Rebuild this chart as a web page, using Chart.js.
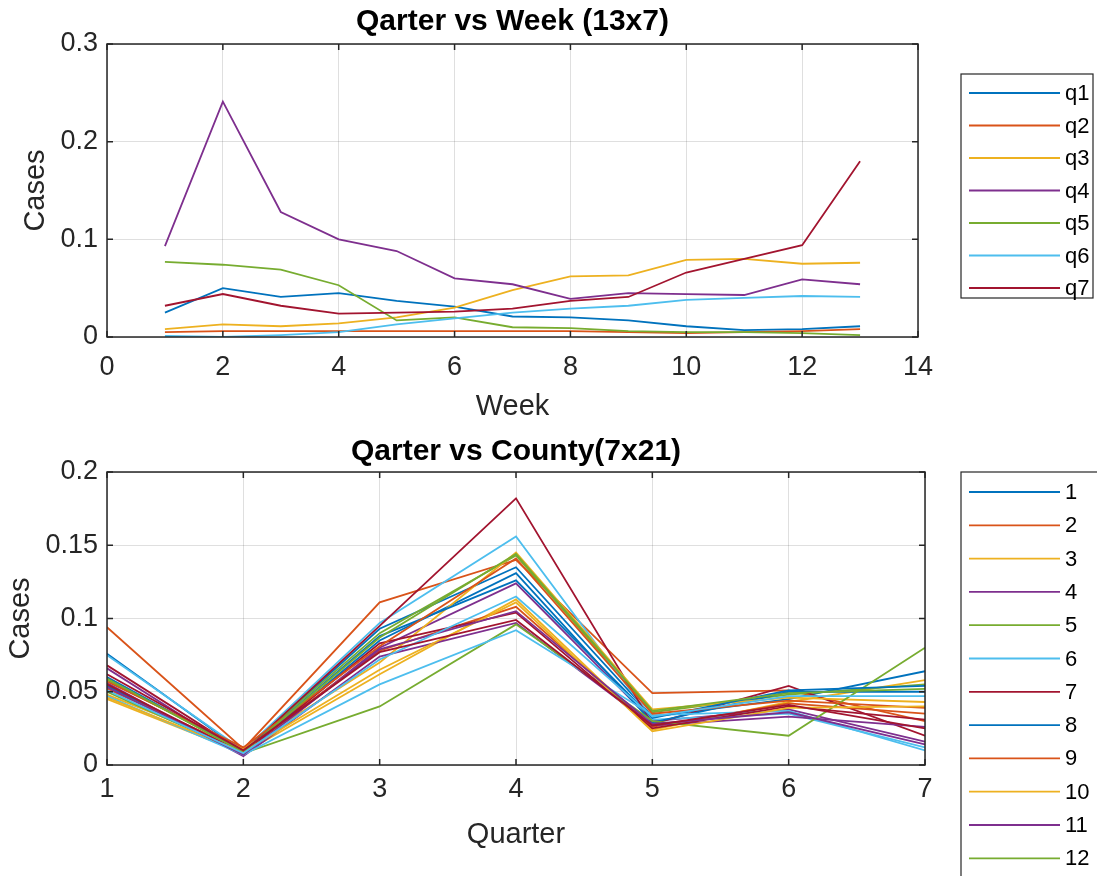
<!DOCTYPE html>
<html>
<head>
<meta charset="utf-8">
<title>Qarter vs Week / Qarter vs County</title>
<script src="https://cdn.jsdelivr.net/npm/chart.js@4.4.1/dist/chart.umd.min.js"></script>
<style>
  html, body { margin: 0; padding: 0; background: #fff; overflow: hidden; }
  #wrap { position: relative; width: 1097px; height: 876px; }
  canvas { position: absolute; left: 0; }
  #weekChart { top: 0; }
  #countyChart { top: 425px; }
</style>
</head>
<body>
<div id="wrap">
  <canvas id="weekChart" width="1097" height="425"></canvas>
  <canvas id="countyChart" width="1097" height="451"></canvas>
</div>
<script>
// ---- data: cases per week for each quarter ----
const weeks = [1, 2, 3, 4, 5, 6, 7, 8, 9, 10, 11, 12, 13];
const quarterNames = ['q1', 'q2', 'q3', 'q4', 'q5', 'q6', 'q7'];
const q1 = [0.025, 0.050, 0.041, 0.045, 0.037, 0.031, 0.021, 0.020, 0.017, 0.011, 0.007, 0.008, 0.011];
const q2 = [0.005, 0.006, 0.006, 0.006, 0.006, 0.006, 0.006, 0.006, 0.005, 0.004, 0.005, 0.006, 0.008];
const q3 = [0.008, 0.013, 0.011, 0.014, 0.020, 0.030, 0.048, 0.062, 0.063, 0.079, 0.080, 0.075, 0.076];
const q4 = [0.093, 0.241, 0.128, 0.100, 0.088, 0.060, 0.054, 0.039, 0.045, 0.044, 0.043, 0.059, 0.054];
const q5 = [0.077, 0.074, 0.069, 0.053, 0.017, 0.020, 0.010, 0.009, 0.006, 0.005, 0.005, 0.004, 0.002];
const q6 = [0.001, 0.000, 0.002, 0.005, 0.013, 0.019, 0.025, 0.029, 0.032, 0.038, 0.040, 0.042, 0.041];
const q7 = [0.032, 0.044, 0.032, 0.024, 0.025, 0.026, 0.029, 0.037, 0.041, 0.066, 0.080, 0.094, 0.180];
const weekSeries = [q1, q2, q3, q4, q5, q6, q7];
const weekTicks = [0, 2, 4, 6, 8, 10, 12, 14];
const weekCaseTicks = [0, 0.1, 0.2, 0.3];

// ---- data: cases per quarter for each county ----
const quarters = [1, 2, 3, 4, 5, 6, 7];
const countyNames = ['1', '2', '3', '4', '5', '6', '7', '8', '9', '10', '11',
                     '12', '13', '14', '15', '16', '17', '18', '19', '20', '21'];
const c1  = [0.076, 0.009, 0.093, 0.135, 0.033, 0.045, 0.064];
const c2  = [0.094, 0.011, 0.111, 0.140, 0.049, 0.051, 0.030];
const c3  = [0.045, 0.008, 0.062, 0.113, 0.024, 0.043, 0.058];
const c4  = [0.066, 0.007, 0.080, 0.124, 0.030, 0.038, 0.016];
const c5  = [0.058, 0.010, 0.090, 0.143, 0.036, 0.048, 0.055];
const c6  = [0.075, 0.010, 0.097, 0.156, 0.031, 0.035, 0.012];
const c7  = [0.068, 0.009, 0.095, 0.182, 0.028, 0.054, 0.020];
const c8  = [0.054, 0.008, 0.085, 0.131, 0.029, 0.050, 0.050];
const c9  = [0.052, 0.010, 0.078, 0.108, 0.026, 0.042, 0.035];
const c10 = [0.048, 0.011, 0.070, 0.145, 0.038, 0.046, 0.043];
const c11 = [0.056, 0.006, 0.074, 0.097, 0.027, 0.033, 0.026];
const c12 = [0.050, 0.008, 0.040, 0.096, 0.030, 0.020, 0.080];
const c13 = [0.047, 0.007, 0.055, 0.092, 0.034, 0.037, 0.010];
const c14 = [0.055, 0.008, 0.083, 0.104, 0.025, 0.040, 0.031];
const c15 = [0.060, 0.009, 0.088, 0.126, 0.032, 0.051, 0.054];
const c16 = [0.057, 0.012, 0.081, 0.141, 0.035, 0.044, 0.039];
const c17 = [0.046, 0.009, 0.065, 0.111, 0.023, 0.039, 0.040];
const c18 = [0.053, 0.007, 0.079, 0.105, 0.028, 0.036, 0.014];
const c19 = [0.059, 0.009, 0.087, 0.144, 0.037, 0.049, 0.052];
const c20 = [0.051, 0.008, 0.072, 0.115, 0.033, 0.047, 0.047];
const c21 = [0.062, 0.010, 0.077, 0.099, 0.027, 0.041, 0.025];
const countySeries = [c1, c2, c3, c4, c5, c6, c7, c8, c9, c10, c11,
                      c12, c13, c14, c15, c16, c17, c18, c19, c20, c21];
const quarterTicks = [1, 2, 3, 4, 5, 6, 7];
const countyCaseTicks = [0, 0.05, 0.1, 0.15, 0.2];

// ---- look ----
const FONT = "'Liberation Sans', Arial, Helvetica, sans-serif";
const AXIS_COLOR = '#262626';
const GRID_COLOR = 'rgba(38,38,38,0.15)';
const lineColors = ['#0072BD', '#D95319', '#EDB120', '#7E2F8E', '#77AC30', '#4DBEEE', '#A2142F'];

// closed box round the plot area with small inward ticks on all four sides
const axesBox = {
  id: 'axesBox',
  afterDraw(chart) {
    const { ctx, chartArea: a, scales } = chart;
    const len = 6;
    ctx.save();
    ctx.strokeStyle = AXIS_COLOR;
    ctx.lineWidth = 1.5;
    ctx.strokeRect(a.left, a.top, a.right - a.left, a.bottom - a.top);
    ctx.beginPath();
    scales.x.ticks.forEach(t => {
      const px = scales.x.getPixelForValue(t.value);
      ctx.moveTo(px, a.bottom); ctx.lineTo(px, a.bottom - len);
      ctx.moveTo(px, a.top); ctx.lineTo(px, a.top + len);
    });
    scales.y.ticks.forEach(t => {
      const py = scales.y.getPixelForValue(t.value);
      ctx.moveTo(a.left, py); ctx.lineTo(a.left + len, py);
      ctx.moveTo(a.right, py); ctx.lineTo(a.right - len, py);
    });
    ctx.stroke();
    ctx.restore();
  }
};

// bold title centred over the plot area (not over the whole canvas)
const axesTitle = {
  id: 'axesTitle',
  afterDraw(chart, args, o) {
    const { ctx, chartArea: a } = chart;
    ctx.save();
    ctx.font = 'bold ' + o.size + 'px ' + FONT;
    ctx.fillStyle = '#000';
    ctx.textAlign = 'center';
    ctx.textBaseline = 'middle';
    ctx.fillText(o.text, (a.left + a.right) / 2, o.y);
    ctx.restore();
  }
};

// legend drawn as a framed list to the right of the axes
const boxLegend = {
  id: 'boxLegend',
  afterDraw(chart, args, o) {
    const ctx = chart.ctx;
    ctx.save();
    ctx.fillStyle = '#fff';
    ctx.fillRect(o.left, o.top, o.right - o.left, o.bottom - o.top);
    ctx.strokeStyle = AXIS_COLOR;
    ctx.lineWidth = 1.2;
    ctx.strokeRect(o.left, o.top, o.right - o.left, o.bottom - o.top);
    ctx.font = o.fontSize + 'px ' + FONT;
    ctx.textBaseline = 'middle';
    ctx.textAlign = 'left';
    chart.data.datasets.forEach((ds, i) => {
      const y = o.firstRow + i * o.rowHeight;
      ctx.strokeStyle = ds.borderColor;
      ctx.lineWidth = ds.borderWidth;
      ctx.beginPath();
      ctx.moveTo(o.lineStart, y);
      ctx.lineTo(o.lineEnd, y);
      ctx.stroke();
      ctx.fillStyle = '#000';
      ctx.fillText(ds.label, o.textX, y + 1);
    });
    ctx.restore();
  }
};

function buildDatasets(xs, series, names) {
  return series.map((vals, i) => ({
    label: names[i],
    data: xs.map((x, j) => ({ x: x, y: vals[j] })),
    borderColor: lineColors[i % lineColors.length],
    borderWidth: 1.8,
    pointRadius: 0,
    tension: 0,
    fill: false,
    order: series.length - i   // later series drawn on top
  }));
}

function tickLabel(v) {
  return String(+v.toFixed(2));
}

function makeChart(id, cfg) {
  return new Chart(document.getElementById(id), {
    type: 'line',
    data: { datasets: buildDatasets(cfg.xs, cfg.series, cfg.names) },
    options: {
      responsive: false,
      animation: false,
      events: [],
      layout: { padding: { left: 0, right: cfg.padRight, top: cfg.padTop, bottom: 0 } },
      plugins: {
        legend: { display: false },
        tooltip: { enabled: false },
        axesTitle: { text: cfg.title, y: cfg.titleY, size: 30 },
        boxLegend: cfg.legend
      },
      scales: {
        x: {
          type: 'linear',
          min: cfg.xTicks[0],
          max: cfg.xTicks[cfg.xTicks.length - 1],
          afterBuildTicks: s => { s.ticks = cfg.xTicks.map(v => ({ value: v })); },
          afterFit: s => { s.height = cfg.xHeight; },
          grid: { color: GRID_COLOR, lineWidth: 1, drawTicks: false },
          border: { display: false },
          ticks: {
            color: AXIS_COLOR,
            font: { family: FONT, size: 27 },
            padding: cfg.xTickPad,
            maxRotation: 0,
            callback: tickLabel
          },
          title: {
            display: true,
            text: cfg.xTitle,
            color: AXIS_COLOR,
            font: { family: FONT, size: 29 },
            padding: { top: 0, bottom: cfg.xTitlePad }
          }
        },
        y: {
          type: 'linear',
          min: cfg.yTicks[0],
          max: cfg.yTicks[cfg.yTicks.length - 1],
          afterBuildTicks: s => { s.ticks = cfg.yTicks.map(v => ({ value: v })); },
          afterFit: s => { s.width = 107; },
          grid: { color: GRID_COLOR, lineWidth: 1, drawTicks: false },
          border: { display: false },
          ticks: {
            color: AXIS_COLOR,
            font: { family: FONT, size: 27 },
            padding: 9,
            callback: tickLabel
          },
          title: {
            display: true,
            text: 'Cases',
            color: AXIS_COLOR,
            font: { family: FONT, size: 29 },
            padding: { top: cfg.yTitlePad, bottom: 0 }
          }
        }
      }
    },
    plugins: [axesBox, axesTitle, boxLegend]
  });
}

makeChart('weekChart', {
  xs: weeks, series: weekSeries, names: quarterNames,
  title: 'Qarter vs Week (13x7)', titleY: 22,
  padTop: 44,
  padRight: 1097 - 918,
  xTicks: weekTicks, yTicks: weekCaseTicks,
  xTitle: 'Week',
  xHeight: 88, xTickPad: 14, xTitlePad: 1,
  yTitlePad: 19,
  legend: { left: 961, top: 74, right: 1093, bottom: 298,
            firstRow: 93, rowHeight: 32.5,
            lineStart: 969, lineEnd: 1060, textX: 1065, fontSize: 22 }
});

makeChart('countyChart', {
  xs: quarters, series: countySeries, names: countyNames,
  title: 'Qarter vs County(7x21)', titleY: 27,
  padTop: 47,
  padRight: 1097 - 925,
  xTicks: quarterTicks, yTicks: countyCaseTicks,
  xTitle: 'Quarter',
  xHeight: 111, xTickPad: 8, xTitlePad: 24,
  yTitlePad: 4,
  legend: { left: 961, top: 47, right: 1110, bottom: 520,
            firstRow: 67, rowHeight: 33.3,
            lineStart: 969, lineEnd: 1060, textX: 1065, fontSize: 22 }
});
</script>
</body>
</html>
